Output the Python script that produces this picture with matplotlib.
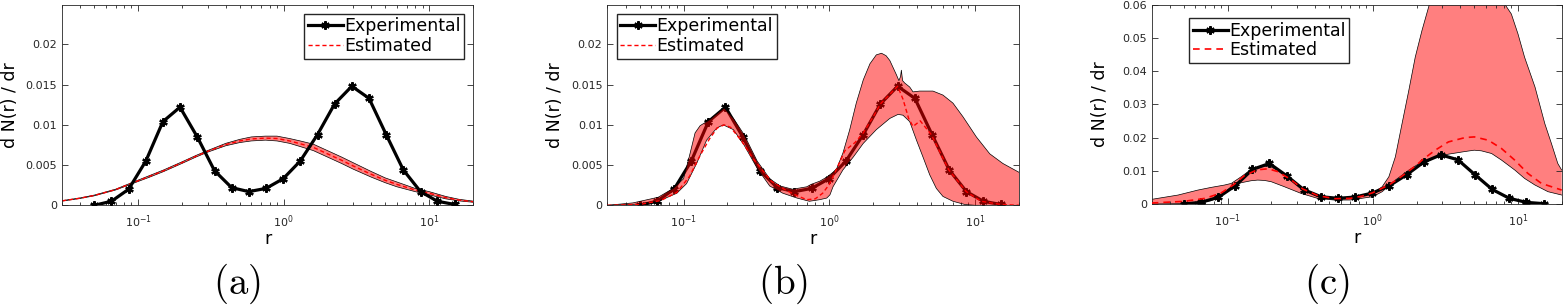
import numpy as np
import matplotlib
matplotlib.use('Agg')
import matplotlib.pyplot as plt

plt.rcParams['font.family'] = ['DejaVu Sans']
plt.rcParams['mathtext.fontset'] = 'cm'

# experimental size distribution (same in all three panels)
r_exp = [0.050, 0.0656, 0.0861, 0.113, 0.148, 0.194, 0.255, 0.335, 0.439, 0.576, 0.756,
         0.992, 1.30, 1.71, 2.24, 2.94, 3.86, 5.06, 6.64, 8.72, 11.4, 15.0]
dn_exp = [0.0000, 0.0005, 0.0020, 0.0055, 0.0104, 0.0122, 0.0085, 0.0043, 0.0022, 0.0017, 0.0021,
          0.0033, 0.0055, 0.0088, 0.0126, 0.0148, 0.0133, 0.0088, 0.0044, 0.0017, 0.0005, 0.0001]

# (a) estimated band
r_a = [0.03, 0.04, 0.05, 0.07, 0.09, 0.12, 0.15, 0.2, 0.25, 0.3, 0.4, 0.5, 0.6, 0.75, 0.9,
       1.1, 1.3, 1.6, 2.0, 2.5, 3.0, 4.0, 5.0, 6.0, 8.0, 10, 13, 16, 20]
lo_a = [0.00052, 0.00085, 0.00118, 0.0019, 0.00265, 0.0035, 0.0042, 0.0052, 0.0060, 0.0066, 0.0074,
        0.0078, 0.0080, 0.0081, 0.0080, 0.0077, 0.0073, 0.0068, 0.0060, 0.0052, 0.0045, 0.0035,
        0.0028, 0.0023, 0.0017, 0.0013, 0.0008, 0.00055, 0.00038]
up_a = [0.00058, 0.00092, 0.00127, 0.0020, 0.0028, 0.0037, 0.0044, 0.0054, 0.0062, 0.0068, 0.0077,
        0.0082, 0.0085, 0.0086, 0.0086, 0.0083, 0.0080, 0.0076, 0.0068, 0.0060, 0.0053, 0.0042,
        0.0034, 0.0029, 0.0021, 0.0017, 0.0011, 0.00075, 0.00052]

# (b) estimated band
ru_b = [0.03, 0.045, 0.067, 0.085, 0.1, 0.11, 0.12, 0.13, 0.15, 0.17, 0.19, 0.22, 0.26, 0.32,
        0.39, 0.46, 0.56, 0.7, 0.75, 0.86, 0.96, 1.06, 1.12, 1.24, 1.38, 1.53, 1.71, 1.9, 2.1,
        2.28, 2.45, 2.6, 2.89, 3.0, 3.08, 3.12, 3.18, 3.29, 3.56, 3.75, 4.17, 5.14, 6.02, 7.05,
        8.26, 10.2, 12.6, 15.5, 20]
up_b = [0.0000, 0.0003, 0.0010, 0.0021, 0.0033, 0.0062, 0.0090, 0.0099, 0.0106, 0.0114, 0.0121,
        0.0108, 0.0088, 0.0055, 0.0033, 0.0024, 0.0020, 0.0023, 0.0026, 0.0030, 0.0035, 0.0041,
        0.0045, 0.0065, 0.0094, 0.0127, 0.0156, 0.0176, 0.0187, 0.0189, 0.0186, 0.0180, 0.0162,
        0.0155, 0.0160, 0.0168, 0.0155, 0.0152, 0.0147, 0.0141, 0.0142, 0.0142, 0.0137, 0.0127,
        0.0110, 0.0085, 0.0064, 0.0052, 0.0041]
rl_b = [0.03, 0.045, 0.067, 0.09, 0.105, 0.123, 0.144, 0.169, 0.187, 0.22, 0.26, 0.32, 0.39,
        0.48, 0.6, 0.73, 0.86, 0.96, 1.01, 1.06, 1.24, 1.46, 1.71, 2.1, 2.6, 2.96, 3.2, 3.56,
        3.96, 4.39, 4.88, 5.42, 6.02, 7.05, 8.5, 10, 20]
lo_b = [0.0, 0.0001, 0.0005, 0.0015, 0.0027, 0.0052, 0.0081, 0.0096, 0.0100, 0.0094, 0.0075,
        0.0046, 0.0024, 0.0015, 0.0009, 0.0005, 0.0007, 0.0009, 0.0013, 0.0023, 0.0044, 0.0060,
        0.0077, 0.0094, 0.0108, 0.0113, 0.0112, 0.0104, 0.0081, 0.0060, 0.0038, 0.0021, 0.0011,
        0.0005, 0.0001, 0.0, 0.0]
re_b = [0.03, 0.05, 0.07, 0.09, 0.11, 0.13, 0.15, 0.17, 0.19, 0.21, 0.25, 0.3, 0.4, 0.5, 0.6,
        0.7, 0.8, 0.9, 1.0, 1.1, 1.28, 1.5, 1.71, 2.0, 2.24, 2.6, 2.94, 3.2, 3.5, 3.75, 4.2, 5.0,
        6.6, 8.7, 11, 15, 20]
est_b = [0.0, 0.0001, 0.0006, 0.0016, 0.0036, 0.0062, 0.0082, 0.0096, 0.0100, 0.0097, 0.0080,
         0.0058, 0.0030, 0.0019, 0.0012, 0.0007, 0.0008, 0.0015, 0.0026, 0.0042, 0.0068, 0.0078,
         0.0090, 0.0110, 0.0126, 0.0138, 0.0148, 0.0132, 0.0108, 0.0098, 0.0105, 0.0088, 0.0044,
         0.0017, 0.0005, 0.0001, 0.0]

# (c) estimated band
ru_c = [0.03, 0.0456, 0.0625, 0.077, 0.095, 0.106, 0.124, 0.145, 0.161, 0.179, 0.2, 0.221,
        0.246, 0.273, 0.3, 0.337, 0.416, 0.514, 0.69, 0.85, 1.0, 1.16, 1.29, 1.43, 1.59, 1.77,
        1.96, 2.18, 2.42, 2.55, 3.0, 4.0, 5.0, 6.5, 7.5, 8.1, 9.0, 10.0, 11.1, 13.1, 15.3, 17.0,
        18.8, 20]
up_c = [0.0014, 0.0027, 0.0042, 0.0050, 0.0057, 0.0062, 0.0082, 0.0104, 0.0112, 0.0114, 0.0111,
        0.0102, 0.0088, 0.0072, 0.0057, 0.0042, 0.0022, 0.0014, 0.0017, 0.0024, 0.0032, 0.0052,
        0.0082, 0.0142, 0.0242, 0.0342, 0.0442, 0.0522, 0.0592, 0.0625, 0.072, 0.080, 0.082,
        0.075, 0.066, 0.0602, 0.0572, 0.0512, 0.0442, 0.0352, 0.0242, 0.0182, 0.0122, 0.0102]
rl_c = [0.03, 0.0456, 0.0625, 0.077, 0.09, 0.106, 0.124, 0.145, 0.161, 0.179, 0.2, 0.246, 0.32,
        0.416, 0.54, 0.7, 1.0, 1.16, 1.43, 1.77, 2.18, 2.7, 3.32, 4.32, 5.0, 5.6, 6.58, 7.71,
        9.52, 11.1, 13.1, 16.1, 20]
lo_c = [0.0, 0.0001, 0.0004, 0.0010, 0.0025, 0.0052, 0.0064, 0.0070, 0.0072, 0.0071, 0.0067,
        0.0052, 0.0032, 0.0017, 0.0012, 0.0012, 0.0022, 0.0037, 0.0072, 0.0102, 0.0127, 0.0142,
        0.0150, 0.0158, 0.0162, 0.0160, 0.0152, 0.0132, 0.0102, 0.0077, 0.0057, 0.0037, 0.0027]
re_c = [0.03, 0.05, 0.07, 0.09, 0.11, 0.13, 0.16, 0.19, 0.22, 0.27, 0.33, 0.42, 0.55, 0.7, 0.85,
        1.0, 1.3, 1.6, 2.0, 2.18, 2.69, 3.32, 4.32, 5.0, 6.25, 7.7, 9.5, 11.7, 14.5, 20]
est_c = [0.0003, 0.0008, 0.0017, 0.0033, 0.0058, 0.0085, 0.0103, 0.0106, 0.0098, 0.0075, 0.0045,
         0.0025, 0.0016, 0.0017, 0.0024, 0.0034, 0.0058, 0.0085, 0.0117, 0.0132, 0.0162, 0.0187,
         0.0200, 0.0202, 0.0192, 0.0167, 0.0132, 0.0092, 0.0062, 0.0042]

yt_ab = [0, 0.005, 0.01, 0.015, 0.02]
ytl_ab = ['0', '0.005', '0.01', '0.015', '0.02']
yt_c = [0, 0.01, 0.02, 0.03, 0.04, 0.05, 0.06]
ytl_c = ['0', '0.01', '0.02', '0.03', '0.04', '0.05', '0.06']
panel_labels = ['(a)', '(b)', '(c)']

W, H = 1565, 308
fig = plt.figure(figsize=(W / 100, H / 100), dpi=100)
axc = '0.15'


def style(ax, ymax, yt, ytl):
    ax.set_xscale('log')
    ax.set_xlim(0.03, 20)
    ax.set_ylim(0, ymax)
    ax.set_yticks(yt)
    ax.set_yticklabels(ytl)
    ax.tick_params(which='both', direction='in', top=True, right=True, colors=axc,
                   labelsize=8, width=0.6)
    ax.tick_params(which='major', length=4)
    ax.tick_params(which='minor', length=2)
    ax.tick_params(axis='x', pad=6)
    for s in ax.spines.values():
        s.set_color(axc)
        s.set_linewidth(0.6)
    ax.set_xlabel('r', fontsize=12.5)
    ax.set_ylabel('d N(r) / dr', fontsize=12.5)
    ax.xaxis.set_label_coords(0.5, -0.125)
    ax.yaxis.set_label_coords(-0.105, 0.5)


def band(ax, xu, yu, xl, yl, z):
    ax.fill(np.r_[xu, xl[::-1]], np.r_[yu, yl[::-1]], facecolor='red', alpha=0.5,
            edgecolor='none', zorder=z)
    ax.plot(xu, yu, color='k', lw=0.5, zorder=z)
    ax.plot(xl, yl, color='k', lw=0.5, zorder=z)


def legend(ax, loc, anchor):
    ax.legend(loc=loc, bbox_to_anchor=anchor, borderaxespad=0, fontsize=12.5,
              fancybox=False, edgecolor=axc, framealpha=1, handlelength=2.0,
              handletextpad=0.1, labelspacing=0.1, borderpad=0.2)


exp_kw = dict(color='k', lw=2.3, marker=(6, 2, 0), ms=6, mew=1.6, label='Experimental')

# (a)
ax = fig.add_axes([62 / W, 102.7 / H, 411 / W, 200.3 / H])
band(ax, r_a, up_a, r_a, lo_a, 1)
ax.plot(r_exp, dn_exp, zorder=3, **exp_kw)
est_a = [(u + l) / 2 for u, l in zip(up_a, lo_a)]
ax.plot(r_a, est_a, color='red', ls=(0, (3, 2)), lw=1.0, zorder=2, label='Estimated')
style(ax, 0.0249, yt_ab, ytl_ab)
legend(ax, 'upper right', (0.979, 0.955))

# (b)
ax = fig.add_axes([607.3 / W, 102.7 / H, 411.7 / W, 200.3 / H])
ax.plot(r_exp, dn_exp, zorder=2, **exp_kw)
band(ax, ru_b, up_b, rl_b, lo_b, 3)
ax.plot(re_b, est_b, color='red', ls=(0, (3, 2)), lw=1.0, zorder=4, label='Estimated')
style(ax, 0.0249, yt_ab, ytl_ab)
legend(ax, 'upper left', (0.023, 0.955))

# (c)
ax = fig.add_axes([1151.7 / W, 104 / H, 410 / W, 199.3 / H])
band(ax, ru_c, up_c, rl_c, lo_c, 1)
ax.plot(r_exp, dn_exp, zorder=2, **exp_kw)
ax.plot(re_c, est_c, color='red', ls=(0, (4, 3)), lw=1.2, zorder=3, label='Estimated')
style(ax, 0.06, yt_c, ytl_c)
legend(ax, 'upper left', (0.092, 0.932))

for xc, lab in zip([237, 783, 1327], panel_labels):
    fig.text(xc / W, 1 - 284 / H, r'$\mathrm{' + lab + '}$', fontsize=28, ha='center', va='center')

fig.savefig('out.png', dpi=100)
